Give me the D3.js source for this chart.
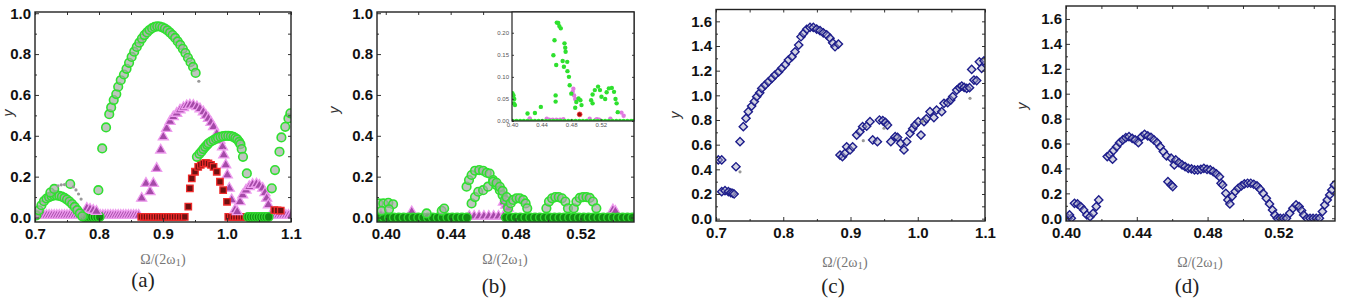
<!DOCTYPE html>
<html>
<head>
<meta charset="utf-8">
<script src="https://cdn.jsdelivr.net/npm/d3@7"></script>
<style>
  body { margin: 0; background: #fff; }
  svg { display: block; }
</style>
</head>
<body>
<script>
// four panels of y vs Omega/(2 omega1)

// ---- panel (a) ----
var aGreen = [
  [0.702,0.010],[0.706,0.035],[0.710,0.060],[0.714,0.080],[0.718,0.093],[0.722,0.100],[0.726,0.105],[0.730,0.108],
  [0.734,0.108],[0.738,0.106],[0.742,0.102],[0.746,0.096],[0.750,0.088],[0.754,0.078],[0.758,0.066],[0.762,0.052],
  [0.766,0.036],[0.770,0.020],[0.774,0.006],
  [0.724,0.122],[0.730,0.140],[0.755,0.164],
  [0.799,0.134],[0.805,0.338],[0.811,0.441],[0.816,0.506],[0.819,0.539],[0.823,0.575],[0.827,0.604],[0.830,0.640],
  [0.834,0.672],[0.839,0.700],[0.843,0.728],[0.847,0.757],[0.851,0.786],[0.855,0.812],[0.859,0.835],[0.863,0.856],
  [0.867,0.876],[0.871,0.893],[0.875,0.906],[0.879,0.918],[0.883,0.927],[0.887,0.933],[0.891,0.936],[0.895,0.935],
  [0.899,0.931],[0.903,0.925],[0.907,0.916],[0.911,0.905],[0.915,0.893],[0.919,0.879],[0.923,0.862],[0.927,0.845],
  [0.931,0.826],[0.935,0.805],[0.939,0.782],[0.943,0.760],[0.947,0.737],[0.951,0.708],
  [0.953,0.297],[0.957,0.312],[0.960,0.322],[0.963,0.335],[0.966,0.346],[0.969,0.356],[0.971,0.363],[0.975,0.372],
  [0.979,0.379],[0.983,0.386],[0.986,0.390],[0.990,0.395],[0.994,0.398],[0.998,0.400],[1.002,0.400],[1.006,0.398],
  [1.010,0.395],[1.013,0.389],[1.016,0.382],[1.019,0.370],[1.021,0.359],[1.023,0.335],[1.025,0.297],[1.031,0.216],
  [1.070,0.143],[1.075,0.232],[1.082,0.322],[1.085,0.392],[1.091,0.444],[1.096,0.485],[1.099,0.510]
];
var aGreenBase = [
  [0.777,0.003],[0.781,0.003],[0.785,0.003],[0.789,0.003],[0.793,0.003],[0.797,0.003],[0.801,0.003],
  [1.033,0.003],[1.037,0.003],[1.041,0.003],[1.045,0.003],[1.049,0.003],[1.053,0.003],[1.057,0.003],[1.061,0.003],[1.065,0.003]
];
var aMagenta = [
  [0.781,0.045],[0.786,0.040],[0.791,0.035],[0.796,0.030],
  [0.8667,0.094],[0.8734,0.167],[0.8797,0.126],[0.8849,0.167],[0.8901,0.240],[0.8964,0.330],[0.9005,0.395],[0.9057,0.436],
  [0.911,0.470],[0.9161,0.493],[0.9214,0.510],[0.9266,0.526],[0.932,0.538],[0.937,0.547],[0.942,0.550],[0.9474,0.549],
  [0.953,0.542],[0.9578,0.532],[0.963,0.517],[0.967,0.500],[0.971,0.485],[0.975,0.465],[0.979,0.444],[0.984,0.410],
  [0.989,0.378],[0.993,0.346],[0.995,0.306],[0.998,0.257],[1.0005,0.208],[1.0036,0.143],[1.0073,0.086],[1.0125,0.037],
  [1.016,0.028],[1.0203,0.077],[1.0245,0.110],[1.0297,0.134],[1.0348,0.151],[1.040,0.162],[1.046,0.164],[1.0505,0.157],
  [1.0558,0.143],[1.0594,0.121],[1.062,0.094],[1.0646,0.062]
];
var aMagentaBase = [
  [0.702,0.010],[0.706,0.010],[0.710,0.010],[0.714,0.010],[0.718,0.010],[0.722,0.010],[0.726,0.010],[0.730,0.010],
  [0.734,0.010],[0.738,0.010],[0.742,0.010],[0.746,0.010],[0.750,0.010],[0.754,0.010],[0.758,0.010],[0.762,0.010],
  [0.766,0.010],[0.770,0.010],[0.774,0.010],[0.778,0.010],[0.782,0.010],[0.786,0.010],[0.790,0.010],[0.794,0.010],
  [0.798,0.010],[0.802,0.010],[0.806,0.010],[0.810,0.010],[0.814,0.010],[0.818,0.010],[0.822,0.010],[0.826,0.010],
  [0.830,0.010],[0.834,0.010],[0.838,0.010],[0.842,0.010],[0.846,0.010],[0.850,0.010],[0.854,0.010],[0.858,0.010],
  [0.862,0.010],
  [1.068,0.010],[1.072,0.010],[1.076,0.010],[1.080,0.010],[1.084,0.010],[1.088,0.010],[1.092,0.010],[1.096,0.010],[1.100,0.010]
];
var aRed = [
  [0.9395,0.053],[0.942,0.143],[0.945,0.192],[0.950,0.224],[0.955,0.248],[0.959,0.258],[0.963,0.265],[0.967,0.267],
  [0.971,0.265],[0.975,0.258],[0.979,0.248],[0.984,0.224],[0.989,0.175],[0.994,0.134],[1.000,0.077],
  [1.074,0.036],[1.079,0.035],[1.084,0.034]
];
var aRedBase = [
  [0.866,0.003],[0.870,0.003],[0.874,0.003],[0.878,0.003],[0.882,0.003],[0.886,0.003],[0.890,0.003],[0.894,0.003],
  [0.898,0.003],[0.902,0.003],[0.906,0.003],[0.910,0.003],[0.914,0.003],[0.918,0.003],[0.922,0.003],[0.926,0.003],
  [0.930,0.003],[0.934,0.003],
  [1.002,0.003],[1.006,0.003],[1.010,0.003],[1.014,0.003],[1.018,0.003],[1.022,0.003],[1.026,0.003],[1.030,0.003]
];
var aGray = [[0.736,0.155],[0.741,0.160],[0.746,0.161],[0.760,0.150],[0.764,0.135],[0.768,0.115],[0.772,0.090],[0.956,0.667]];

// ---- panel (b) ----
var bGreen = [
  [0.3955,0.069],[0.3985,0.069],[0.4016,0.072],[0.4045,0.065],[0.3975,0.033],[0.402,0.040],
  [0.4252,0.020],[0.4345,0.033],[0.436,0.044],
  [0.4498,0.151],[0.4513,0.183],[0.4529,0.208],[0.455,0.229],[0.4576,0.232],[0.460,0.229],[0.4622,0.219],[0.464,0.215],
  [0.4662,0.183],[0.4683,0.159],[0.4703,0.134],[0.472,0.110],[0.4734,0.086],
  [0.4529,0.069],[0.455,0.100],[0.457,0.126],[0.460,0.134],[0.463,0.151],[0.4662,0.175],[0.4683,0.170],[0.4703,0.150],
  [0.472,0.130],[0.4745,0.100],
  [0.4754,0.045],[0.477,0.070],[0.4785,0.086],[0.4806,0.094],[0.4826,0.094],[0.4847,0.086],[0.4862,0.069],[0.4872,0.045],
  [0.499,0.045],[0.5006,0.078],[0.5025,0.094],[0.5045,0.100],[0.5066,0.100],[0.5086,0.094],[0.5107,0.078],[0.5123,0.045],
  [0.5159,0.045],[0.5175,0.078],[0.5196,0.096],[0.5216,0.100],[0.5237,0.100],[0.5257,0.096],[0.5277,0.078],[0.5298,0.045]
];
var bGreenBase = [
  [0.396,0],[0.399,0],[0.402,0],[0.405,0],[0.408,0],[0.411,0],[0.414,0],[0.417,0],[0.420,0],[0.423,0],[0.426,0],
  [0.429,0],[0.432,0],[0.435,0],[0.438,0],[0.441,0],[0.444,0],[0.447,0],[0.450,0],
  [0.474,0],[0.477,0],[0.480,0],[0.483,0],[0.486,0],[0.489,0],[0.492,0],[0.495,0],[0.498,0],[0.501,0],[0.504,0],
  [0.507,0],[0.510,0],[0.513,0],[0.516,0],[0.519,0],[0.522,0],[0.525,0],[0.528,0],[0.531,0],[0.534,0],[0.537,0],
  [0.540,0],[0.543,0],[0.546,0],[0.549,0],[0.552,0]
];
var bMagenta = [
  [0.397,0.012],[0.400,0.012],[0.416,0.028],[0.4725,0.075],[0.474,0.060],[0.4755,0.045],[0.540,0.037],[0.5415,0.030],
  [0.4515,0.006],[0.4545,0.006],[0.4575,0.006],[0.4605,0.006],[0.4635,0.006],[0.4665,0.006],[0.4695,0.006],[0.4725,0.006]
];

// ---- inset of (b) ----
var insetGreen = [
  [0.4005,0.063],[0.402,0.058],[0.403,0.050],[0.4025,0.040],[0.404,0.036],
  [0.421,0.017],[0.431,0.018],[0.439,0.032],
  [0.456,0.149],[0.4575,0.183],[0.4606,0.223],[0.4625,0.222],[0.464,0.215],[0.466,0.210],[0.471,0.176],[0.472,0.166],
  [0.4725,0.157],[0.4747,0.134],[0.475,0.113],[0.477,0.100],[0.478,0.081],[0.4598,0.127],[0.459,0.058],[0.459,0.044],
  [0.4702,0.123],[0.4685,0.136],[0.4802,0.062],
  [0.487,0.043],[0.490,0.051],[0.4925,0.047],[0.494,0.036],[0.4855,0.030],
  [0.507,0.047],[0.509,0.060],[0.512,0.070],[0.5164,0.078],[0.519,0.070],[0.521,0.055],[0.509,0.040],
  [0.526,0.050],[0.528,0.065],[0.531,0.074],[0.535,0.075],[0.538,0.066],[0.540,0.050],[0.5415,0.040],[0.543,0.020]
];
var insetGreenBase = [
  [0.401,0],[0.406,0],[0.411,0],[0.416,0],[0.421,0],[0.426,0],[0.431,0],[0.436,0],[0.441,0],[0.446,0],[0.451,0],
  [0.456,0],[0.461,0],[0.466,0],[0.471,0],[0.476,0],[0.481,0],[0.486,0],[0.491,0],[0.496,0],[0.501,0],[0.506,0],
  [0.511,0],[0.516,0],[0.521,0],[0.526,0],[0.531,0],[0.536,0],[0.541,0],[0.546,0],[0.551,0],[0.556,0],[0.561,0],[0.564,0]
];
var insetMagenta = [
  [0.424,0.006],[0.447,0.005],[0.4695,0.004],[0.482,0.066],[0.483,0.073],[0.484,0.058],[0.4855,0.050],[0.505,0.005],
  [0.515,0.004],[0.533,0.005],[0.548,0.019],[0.551,0.012],[0.4505,0.003],[0.455,0.003],[0.460,0.003],[0.465,0.003],
  [0.5135,0.003],[0.518,0.003]
];
var insetRed = [[0.4915,0.015]];

// ---- panel (c) ----
var cBlue = [
  [0.7034,0.476],[0.7085,0.476],[0.7085,0.219],[0.7134,0.227],[0.7184,0.219],[0.722,0.210],[0.7248,0.206],[0.727,0.200],
  [0.7297,0.421],[0.7357,0.624],[0.7406,0.746],[0.7446,0.814],[0.748,0.867],[0.753,0.913],[0.757,0.950],[0.7605,0.989],
  [0.765,1.020],[0.768,1.056],[0.773,1.083],[0.7778,1.110],[0.783,1.137],[0.7877,1.164],[0.793,1.190],[0.7977,1.219],
  [0.803,1.250],[0.8076,1.286],[0.813,1.313],[0.8175,1.353],[0.823,1.408],[0.8264,1.475],[0.830,1.502],[0.8349,1.535],
  [0.8398,1.551],[0.8447,1.551],[0.8497,1.537],[0.8547,1.524],[0.8596,1.507],[0.8646,1.491],[0.8695,1.463],[0.8735,1.426],
  [0.877,1.394],[0.882,1.416],
  [0.8844,0.516],[0.888,0.503],[0.8917,0.530],[0.8943,0.583],[0.8993,0.557],[0.9032,0.583],[0.9092,0.678],[0.914,0.705],
  [0.918,0.746],[0.924,0.750],[0.929,0.786],[0.933,0.638],[0.940,0.624],[0.943,0.800],[0.948,0.795],[0.952,0.780],
  [0.955,0.759],[0.960,0.624],[0.9665,0.665],[0.970,0.659],[0.9746,0.611],[0.9795,0.557],[0.9836,0.624],[0.9885,0.692],
  [0.9925,0.730],[0.996,0.759],[1.0008,0.786],[1.0048,0.678],[1.0093,0.786],[1.0127,0.810],[1.0182,0.867],[1.024,0.820],
  [1.028,0.881],[1.0356,0.867],[1.039,0.935],[1.0445,0.940],[1.049,0.962],[1.052,0.990],[1.058,1.043],[1.062,1.062],
  [1.0654,1.075],[1.069,1.065],[1.0728,1.056],[1.077,1.062],[1.0802,1.210],[1.0836,1.124],[1.0876,1.120],[1.0916,1.272],
  [1.095,1.219],[1.0985,1.280]
];
var cGray = [[0.7357,0.380],[0.919,0.632],[0.9498,0.733],[1.0777,0.976],[1.007,0.790]];

// ---- panel (d) ----
var dBlue = [
  [0.4012,0.0],[0.403,0.0],[0.402,0.027],[0.4048,0.120],[0.4065,0.115],[0.4083,0.094],[0.410,0.067],[0.4118,0.027],
  [0.4136,0.013],[0.4153,0.040],[0.4171,0.094],[0.4185,0.147],
  [0.4233,0.495],[0.4247,0.508],[0.4263,0.474],[0.4268,0.543],[0.4286,0.575],[0.4303,0.607],[0.4321,0.629],[0.4338,0.647],
  [0.4356,0.655],[0.4374,0.642],[0.4391,0.629],[0.4409,0.607],[0.4427,0.655],[0.4444,0.674],[0.4462,0.661],[0.448,0.650],
  [0.4497,0.629],[0.4515,0.607],[0.4532,0.575],[0.455,0.535],[0.4568,0.500],[0.4594,0.482],[0.4612,0.428],[0.462,0.468],
  [0.4638,0.447],[0.4656,0.428],[0.4673,0.415],[0.4691,0.401],[0.4709,0.396],[0.4726,0.388],[0.4744,0.388],[0.4762,0.393],
  [0.4779,0.401],[0.4797,0.393],[0.4815,0.388],[0.4832,0.375],[0.485,0.356],[0.4867,0.334],[0.4876,0.281],[0.4885,0.268],
  [0.4903,0.200],[0.4915,0.147],[0.4926,0.115],
  [0.4576,0.294],[0.4594,0.268],[0.4603,0.254],
  [0.4938,0.174],[0.4956,0.214],[0.4973,0.241],[0.4991,0.260],[0.5008,0.276],[0.5026,0.281],[0.5044,0.281],[0.5061,0.273],
  [0.5079,0.260],[0.5097,0.233],[0.5114,0.200],[0.5132,0.160],[0.515,0.115],[0.5167,0.067],[0.518,0.027],
  [0.5194,0.0],[0.5211,0.0],[0.5229,0.0],[0.5246,0.0],
  [0.5264,0.040],[0.5282,0.080],[0.530,0.107],[0.5317,0.094],[0.5331,0.062],[0.5343,0.027],
  [0.5361,0.0],[0.5379,0.0],[0.5396,0.0],[0.5414,0.0],[0.5432,0.0],
  [0.5449,0.054],[0.5462,0.107],[0.5476,0.147],[0.549,0.187],[0.5502,0.227],[0.5516,0.268]
];

// tick values
var xTicksA = [0.7, 0.8, 0.9, 1.0, 1.1];
var xMinorA = [0.75, 0.85, 0.95, 1.05];
var xTicksB = [0.40, 0.44, 0.48, 0.52];
var xMinorB = [0.42, 0.46, 0.50, 0.54];
var yTicks1 = [0, 0.2, 0.4, 0.6, 0.8, 1.0];
var yMinor1 = [0.1, 0.3, 0.5, 0.7, 0.9];
var yTicks16 = [0, 0.2, 0.4, 0.6, 0.8, 1.0, 1.2, 1.4, 1.6];
var yMinor16 = [0.1, 0.3, 0.5, 0.7, 0.9, 1.1, 1.3, 1.5];
var insetYTicks = [0, 0.05, 0.10, 0.15, 0.20];
var insetXTicks = [0.40, 0.44, 0.48, 0.52];

var W = 1354, H = 299;
var svg = d3.select("body").append("svg").attr("width", W).attr("height", H);
svg.append("rect").attr("width", W).attr("height", H).attr("fill", "#fff");

var tickFont = "Liberation Sans, Arial, sans-serif";
var serif = "Liberation Serif, Times New Roman, serif";

var markers = {
  circle: function(sel) {
    sel.append("circle").attr("r", 4.3).attr("fill", "#a3aca3").attr("fill-opacity", 0.7)
      .attr("stroke", "#2fe02f").attr("stroke-width", 1.6);
  },
  circleBase: function(sel) {
    sel.append("circle").attr("r", 4.3).attr("fill", "#128a12")
      .attr("stroke", "#2fd82f").attr("stroke-width", 1.4);
  },
  triangle: function(sel) {
    sel.append("path").attr("d", d3.symbol().type(d3.symbolTriangle).size(44))
      .attr("fill", "#a54aa8").attr("stroke", "#ee9cee").attr("stroke-width", 1.3);
  },
  square: function(sel) {
    sel.append("path").attr("d", d3.symbol().type(d3.symbolSquare).size(42))
      .attr("fill", "#6e1010").attr("stroke", "#f02a2a").attr("stroke-width", 1.3);
  },
  gray: function(sel) {
    sel.append("circle").attr("r", 1.6).attr("fill", "#999");
  },
  diamond: function(sel) {
    sel.append("path").attr("d", d3.symbol().type(d3.symbolSquare).size(34))
      .attr("transform", "rotate(45)")
      .attr("fill", "#a8a8c4").attr("fill-opacity", 0.5)
      .attr("stroke", "#1e1e8c").attr("stroke-width", 1.4);
  },
  dot: function(sel) {
    sel.append("circle").attr("r", 2.2).attr("fill", "#2ee02e");
  },
  dotPink: function(sel) {
    sel.append("circle").attr("r", 2.2).attr("fill", "#e07ae0");
  },
  dotRed: function(sel) {
    sel.append("circle").attr("r", 2.4).attr("fill", "#9a0e0e").attr("stroke", "#ff3030").attr("stroke-width", 0.8);
  }
};

function plotSeries(g, data, x, y, kind) {
  g.selectAll(null).data(data).enter().append("g")
    .attr("transform", function(d) { return "translate(" + x(d[0]) + "," + y(d[1]) + ")"; })
    .call(markers[kind]);
}

function styleAxis(sel) {
  sel.select(".domain").remove();
  sel.selectAll(".tick line").attr("stroke", "#333").attr("stroke-width", 1);
  sel.selectAll(".tick text")
    .style("font-family", "'Liberation Sans', Arial, sans-serif")
    .style("font-weight", "bold")
    .style("font-size", "15px")
    .attr("fill", "#111");
}

var clipId = 0;
function drawPanel(p) {
  var x = d3.scaleLinear().domain(p.xDomain).range([p.left, p.right]);
  var y = d3.scaleLinear().domain(p.yDomain).range([p.bottom, p.top]);
  var g = svg.append("g");

  clipId++;
  svg.append("clipPath").attr("id", "clip" + clipId).append("rect")
    .attr("x", p.left).attr("y", p.top).attr("width", p.right - p.left).attr("height", p.bottom - p.top);

  var plot = g.append("g").attr("clip-path", "url(#clip" + clipId + ")");
  p.series.forEach(function(s) { plotSeries(plot, s.data, x, y, s.kind); });

  // ticks on all four sides, pointing inward
  g.append("g").attr("transform", "translate(0," + p.bottom + ")")
    .call(d3.axisBottom(x).tickValues(p.xTicks).tickSizeInner(-4).tickSizeOuter(0).tickPadding(6).tickFormat(d3.format(p.xFmt)))
    .call(styleAxis);
  g.append("g").attr("transform", "translate(0," + p.bottom + ")")
    .call(d3.axisBottom(x).tickValues(p.xMinor).tickSizeInner(-2).tickSizeOuter(0).tickFormat(""))
    .call(styleAxis);
  g.append("g").attr("transform", "translate(0," + p.top + ")")
    .call(d3.axisTop(x).tickValues(p.xTicks.concat(p.xMinor)).tickSizeInner(-3).tickSizeOuter(0).tickFormat(""))
    .call(styleAxis);
  g.append("g").attr("transform", "translate(" + p.left + ",0)")
    .call(d3.axisLeft(y).tickValues(p.yTicks).tickSizeInner(-4).tickSizeOuter(0).tickPadding(4).tickFormat(d3.format(".1f")))
    .call(styleAxis);
  g.append("g").attr("transform", "translate(" + p.left + ",0)")
    .call(d3.axisLeft(y).tickValues(p.yMinor).tickSizeInner(-2).tickSizeOuter(0).tickFormat(""))
    .call(styleAxis);
  g.append("g").attr("transform", "translate(" + p.right + ",0)")
    .call(d3.axisRight(y).tickValues(p.yTicks.concat(p.yMinor)).tickSizeInner(-3).tickSizeOuter(0).tickFormat(""))
    .call(styleAxis);

  g.append("rect").attr("x", p.left).attr("y", p.top)
    .attr("width", p.right - p.left).attr("height", p.bottom - p.top)
    .attr("fill", "none").attr("stroke", "#222").attr("stroke-width", 1.4);

  // y title
  g.append("text").attr("transform", "translate(" + p.yLabX + "," + p.yLabY + ") rotate(-90)")
    .attr("text-anchor", "middle").attr("font-family", tickFont).attr("font-style", "italic")
    .attr("font-size", 14).attr("fill", "#333").text("y");

  // x title
  var xt = g.append("text").attr("x", p.xTitleX).attr("y", p.xTitleY).attr("text-anchor", "middle")
    .attr("font-family", serif).attr("font-size", 14).attr("fill", "#777");
  xt.append("tspan").text("Ω/(2ω");
  xt.append("tspan").attr("font-size", 11).attr("dy", 2).text("1");
  xt.append("tspan").attr("dy", -2).text(")");

  // panel tag
  g.append("text").attr("x", p.tagX).attr("y", p.tagY).attr("text-anchor", "middle")
    .attr("font-family", serif).attr("font-size", 21).attr("fill", "#222").text(p.tag);

  return { g: g, x: x, y: y };
}

drawPanel({
  left: 35, right: 291, top: 12, bottom: 222,
  xDomain: [0.7, 1.1], yDomain: [-0.022, 1.006],
  xTicks: xTicksA, xMinor: xMinorA, yTicks: yTicks1, yMinor: yMinor1, xFmt: ".1f",
  yLabX: 13, yLabY: 113, xTitleX: 163, xTitleY: 264, tagX: 143, tagY: 287, tag: "(a)",
  series: [
    { data: aMagentaBase, kind: "triangle" },
    { data: aRedBase, kind: "square" },
    { data: aGreenBase, kind: "circleBase" },
    { data: aMagenta, kind: "triangle" },
    { data: aRed, kind: "square" },
    { data: aGreen, kind: "circle" },
    { data: aGray, kind: "gray" }
  ]
});

drawPanel({
  left: 377, right: 634, top: 12, bottom: 222,
  xDomain: [0.3946, 0.553], yDomain: [-0.022, 1.006],
  xTicks: xTicksB, xMinor: xMinorB, yTicks: yTicks1, yMinor: yMinor1, xFmt: ".2f",
  yLabX: 339, yLabY: 110, xTitleX: 505, xTitleY: 264, tagX: 494, tagY: 293, tag: "(b)",
  series: [
    { data: bMagenta, kind: "triangle" },
    { data: bGreenBase, kind: "circleBase" },
    { data: bGreen, kind: "circle" }
  ]
});

// inset in (b)
(function() {
  var L = 512, R = 634, T = 12, B = 121;
  var x = d3.scaleLinear().domain([0.40, 0.565]).range([L, R]);
  var y = d3.scaleLinear().domain([0, 0.247]).range([B, T]);
  var g = svg.append("g");
  g.append("rect").attr("x", L).attr("y", T).attr("width", R - L).attr("height", B - T).attr("fill", "#fff");
  svg.append("clipPath").attr("id", "clipInset").append("rect")
    .attr("x", L).attr("y", T - 3).attr("width", R - L).attr("height", B - T + 3);
  var plot = g.append("g").attr("clip-path", "url(#clipInset)");
  plotSeries(plot, insetMagenta, x, y, "dotPink");
  plotSeries(plot, insetGreenBase, x, y, "dot");
  plotSeries(plot, insetGreen, x, y, "dot");
  plotSeries(plot, insetRed, x, y, "dotRed");

  function small(sel) {
    sel.select(".domain").remove();
    sel.selectAll(".tick line").attr("stroke", "#444");
    sel.selectAll(".tick text").attr("font-family", tickFont).attr("font-size", 6).attr("fill", "#555");
  }
  g.append("g").attr("transform", "translate(0," + B + ")")
    .call(d3.axisBottom(x).tickValues(insetXTicks).tickSizeInner(-2).tickSizeOuter(0).tickPadding(2).tickFormat(d3.format(".2f")))
    .call(small);
  g.append("g").attr("transform", "translate(" + L + ",0)")
    .call(d3.axisLeft(y).tickValues(insetYTicks).tickSizeInner(-2).tickSizeOuter(0).tickPadding(3).tickFormat(d3.format(".2f")))
    .call(small);
  g.append("g").attr("transform", "translate(" + R + ",0)")
    .call(d3.axisRight(y).tickValues(insetYTicks).tickSizeInner(-2).tickSizeOuter(0).tickFormat(""))
    .call(small);
  g.append("rect").attr("x", L).attr("y", T).attr("width", R - L).attr("height", B - T)
    .attr("fill", "none").attr("stroke", "#222").attr("stroke-width", 1.2);
})();

drawPanel({
  left: 716, right: 985, top: 9.5, bottom: 221,
  xDomain: [0.7, 1.1], yDomain: [-0.019, 1.696],
  xTicks: xTicksA, xMinor: xMinorA, yTicks: yTicks16, yMinor: yMinor16, xFmt: ".1f",
  yLabX: 680, yLabY: 115, xTitleX: 845, xTitleY: 267, tagX: 833, tagY: 293, tag: "(c)",
  series: [
    { data: cBlue, kind: "diamond" },
    { data: cGray, kind: "gray" }
  ]
});

drawPanel({
  left: 1066, right: 1335, top: 6, bottom: 221,
  xDomain: [0.40, 0.552], yDomain: [-0.022, 1.704],
  xTicks: xTicksB, xMinor: xMinorB, yTicks: yTicks16, yMinor: yMinor16, xFmt: ".2f",
  yLabX: 1027, yLabY: 106, xTitleX: 1200, xTitleY: 267, tagX: 1187, tagY: 293, tag: "(d)",
  series: [
    { data: dBlue, kind: "diamond" }
  ]
});
</script>
</body>
</html>
